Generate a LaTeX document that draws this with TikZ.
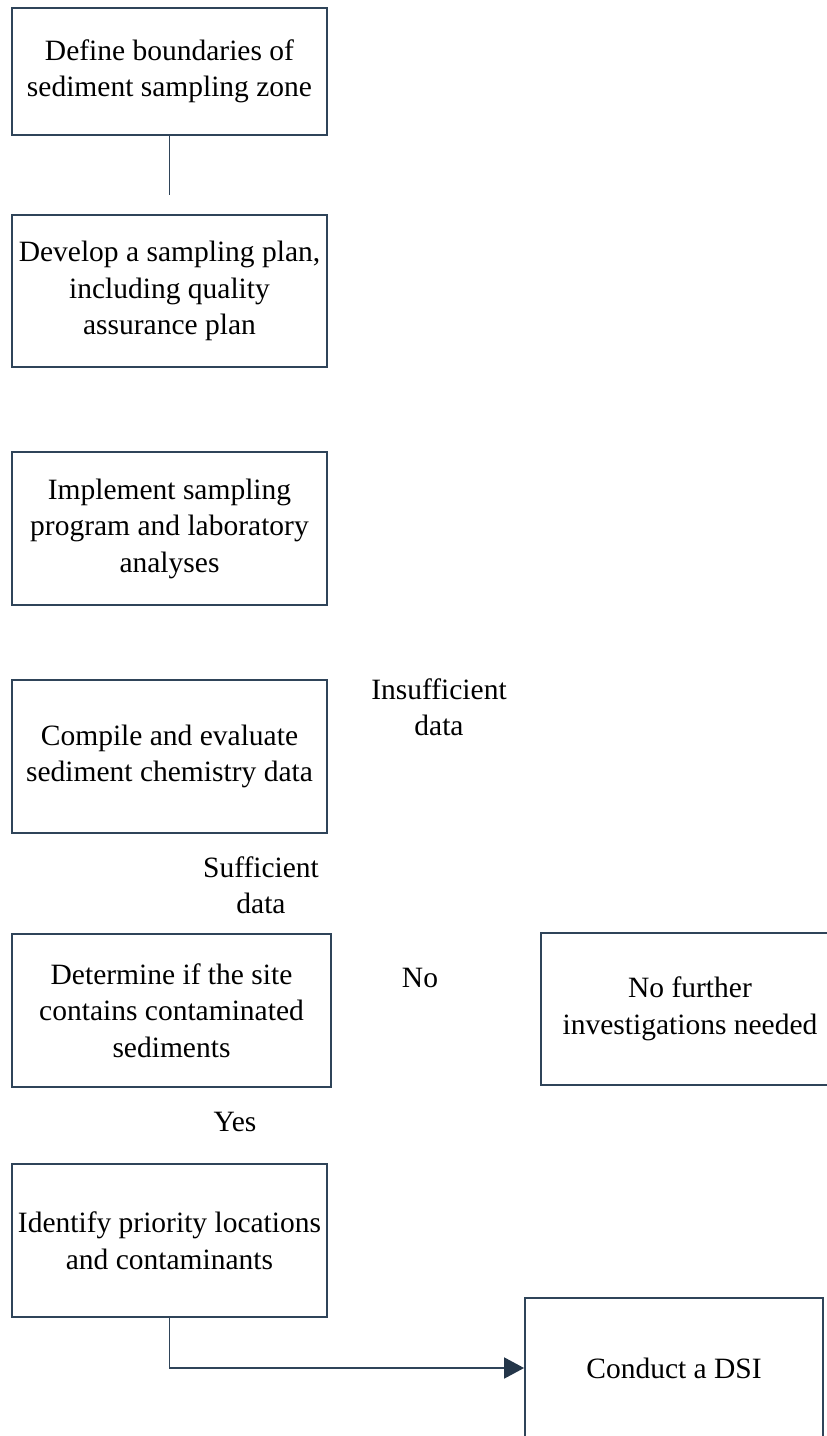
\documentclass[tikz,border=0pt]{standalone}
\usepackage{fontspec}
\setmainfont{Liberation Serif}
\usetikzlibrary{arrows.meta}
\definecolor{lc}{HTML}{2F4459}
\definecolor{tipc}{HTML}{243649}
\tikzset{
  box/.style={draw=lc, line width=1.8pt, align=center, inner sep=0pt,
    font=\fontsize{29.5}{36.5}\selectfont},
  lbl/.style={align=center, inner sep=0pt, font=\fontsize{29.5}{36.5}\selectfont},
  conn/.style={draw=lc, line width=1.8pt},
  arr/.style={conn, -{Triangle[length=20pt,width=21pt,fill=tipc,color=tipc]}}
}
\begin{document}
\begin{tikzpicture}[x=1pt,y=1pt]
\useasboundingbox (0,0) rectangle (827,-1436);
\node[box, minimum width=315, minimum height=127] (b1) at (169.5,-71.5)
  {Define boundaries of\\sediment sampling zone};
\node[box, minimum width=315, minimum height=152] (b2) at (169.5,-291)
  {Develop a sampling plan,\\including quality\\assurance plan};
\node[box, minimum width=315, minimum height=153] (b3) at (169.5,-528.5)
  {Implement sampling\\program and laboratory\\analyses};
\node[box, minimum width=315, minimum height=153] (b4) at (169.5,-756.5)
  {Compile and evaluate\\sediment chemistry data};
\node[box, minimum width=319, minimum height=153] (b5) at (171.5,-1010.5)
  {Determine if the site\\contains contaminated\\sediments};
\node[box, minimum width=315, minimum height=153] (b6) at (169.5,-1240.5)
  {Identify priority locations\\and contaminants};
\node[box, minimum width=298, minimum height=152] (nf) at (690,-1009)
  {No further\\investigations needed};
\node[box, minimum width=298, minimum height=140] (dsi) at (674,-1368)
  {Conduct a DSI};
\node[lbl] (l1) at (439,-707) {Insufficient\\data};
\node[lbl] (l2) at (261,-885) {Sufficient\\data};
\node[lbl] (l3) at (420,-978) {No};
\node[lbl] (l4) at (235,-1122) {Yes};
\coordinate (c1) at (169.5,-195);
\draw[conn] (b1.south) -- (c1);
\draw[arr] (b6.south) |- (dsi.west);
\end{tikzpicture}
\end{document}
